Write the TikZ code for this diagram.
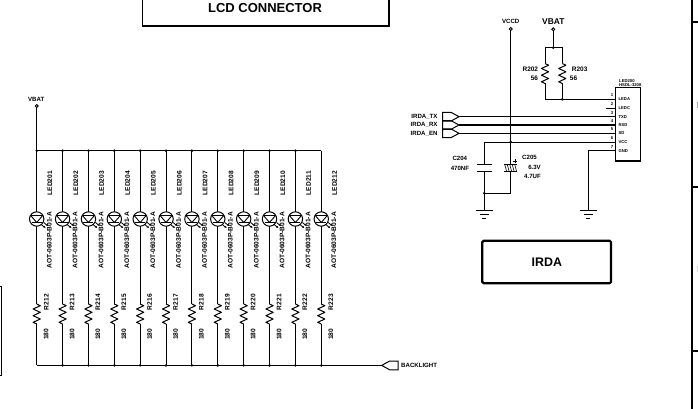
\documentclass[tikz,border=0pt]{standalone}
\usepackage{fontspec}
\setmainfont{Liberation Sans}
\usetikzlibrary{positioning, calc}

\tikzset{
    lbl/.style={inner sep=0, font=\bfseries\fontsize{6.1}{7}\selectfont},
    side lbl/.style={inner sep=0, rotate=90, font=\bfseries\fontsize{6.6}{7}\selectfont},
    tiny lbl/.style={inner sep=0, font=\bfseries\fontsize{4.2}{5}\selectfont},
    big lbl/.style={inner sep=0, font=\bfseries\fontsize{12.4}{14}\selectfont},
    wire/.style={line width=1pt},
    dot/.style={circle, fill=black, inner sep=0, minimum size=2.8pt},
    term/.style={circle, draw, line width=0.9pt, fill=white, inner sep=0, minimum size=3pt},
    pics/resv/.style={code={
        \draw[wire, line join=round] (0,0) -- (3.6,1.7) -- (-3.6,5) -- (3.6,8.3) -- (-3.6,11.7) -- (3.6,15) -- (-3.6,18.3) -- (0,20);
    }},
    pics/gnd/.style={code={
        \draw[wire] (-8.5,0) -- (8.5,0);
        \draw[line width=0.7pt] (-4.5,4.5) -- (4.5,4.5);
        \draw[line width=0.6pt] (-2,8) -- (2,8);
    }},
    pics/led/.style={code={
        \draw[line width=1pt] (0,7) circle (7.2);
        \draw[line width=0.9pt, line join=round] (-6,3.5) -- (6,3.5) -- (0,10.5) -- cycle;
        \draw[line width=0.9pt] (-5,10.5) -- (5,10.5);
        \draw[line width=0.8pt] (4.5,12.5) -- (7.5,15);
        \draw[line width=0.8pt] (7,10.5) -- (10,13);
        \fill (8.8,16) -- (6.6,15.4) -- (8,13.8) -- cycle;
        \fill (11.3,14) -- (9.1,13.4) -- (10.5,11.8) -- cycle;
    }},
    pics/port/.style={code={
        \draw[wire, line join=miter] (0,0) -- (8,-4.4) -- (16.5,-4.4) -- (16.5,4.4) -- (8,4.4) -- cycle;
    }}
}

\begin{document}
\begin{tikzpicture}[x=1pt, y=-1pt]
    \useasboundingbox (0,0) rectangle (698,409);

    % boxes
    \draw[line width=1.1pt] (142.3,-5) rectangle (389,26);
    \node[big lbl, font=\bfseries\fontsize{13}{14}\selectfont] (lcdconn) at (265,8) {LCD CONNECTOR};
    \draw[line width=0.9pt] (-3,286) -- (1.7,286) -- (1.7,375.7) -- (-3,375.7);
    \draw[line width=2.2pt, rounded corners=1.5pt] (482.3,240.7) rectangle (611,283.3);
    \node[big lbl] (irda) at (546.8,262) {IRDA};

    % frame on the right
    \draw[line width=2pt] (692,0) -- (692,409);
    \draw[line width=1.3pt] (692,22) -- (698,22) (692,187) -- (698,187) (692,351) -- (698,351);
    \draw[gray!70, line width=0.8pt] (697.6,102) -- (697.6,108);
    \draw[gray!30, line width=0.8pt] (697.6,266) -- (697.6,272);

    % LED strip
    \foreach \i in {0,...,11} {
        \pgfmathsetmacro{\colx}{36.7+25.87*\i}
        \pgfmathtruncatemacro{\ledn}{201+\i}
        \pgfmathtruncatemacro{\resn}{212+\i}
        \coordinate (top\i) at (\colx,150.7);
        \coordinate (ledin\i) at (\colx,212);
        \coordinate (ledout\i) at (\colx,226.2);
        \coordinate (resin\i) at (\colx,304);
        \coordinate (resout\i) at (\colx,324);
        \coordinate (bot\i) at (\colx,365.4);
        \draw[wire] (top\i) -- (ledin\i);
        \draw[wire] (ledout\i) -- (resin\i);
        \draw[wire] (resout\i) -- (bot\i);
        \pic at (ledin\i) {led};
        \pic at (resin\i) {resv};
        \node[side lbl] (ledname\i) at ($(top\i)+(13.2,32.5)$) {LED\ledn};
        \node[side lbl] (ledtype\i) at ($(top\i)+(12.6,89.5)$) {AOT-0603P-B01-A};
        \node[side lbl] (resname\i) at ($(top\i)+(9.5,151.5)$) {R\resn};
        \node[side lbl] (resval\i) at ($(top\i)+(9.5,183.5)$) {180};
    }
    \coordinate (vbatl) at (36.7,106);
    \coordinate (backl) at (381.7,365.4);
    \draw[wire] (vbatl) -- (top0);
    \draw[wire] (top0) -- (top11);
    \draw[wire] (bot0) -- (backl);
    \foreach \i in {0,...,10} {
        \node[dot] (topdot\i) at (top\i) {};
    }
    \foreach \i in {1,...,11} {
        \node[dot] (botdot\i) at (bot\i) {};
    }
    \node[term] (vbatlt) at (vbatl) {};
    \node[lbl] (vbatllbl) at (36.2,99) {VBAT};
    \pic at (backl) {port};
    \node[lbl, anchor=west] (backlbl) at (401,365.7) {BACKLIGHT};

    % IRDA part
    \draw[line width=1.1pt] (615.8,87.5) rectangle (640.3,161);
    \node[tiny lbl, anchor=west] (ledhead) at (619,80.7) {LED200};
    \node[tiny lbl, anchor=west] (hsdl) at (619,85.2) {HSDL-3208};
    \foreach \n/\pinname/\pinj in {1/LEDA/99.3, 2/LEDC/108.3, 3/TXD/116.7, 4/RXD/125, 5/SD/133.3, 6/VCC/142, 7/GND/150.8} {
        \coordinate (pin\n) at (615.8,\pinj);
        \node[tiny lbl, anchor=west] (pinname\n) at ($(pin\n)+(2.6,0.2)$) {\pinname};
        \node[tiny lbl, anchor=east] (pinnum\n) at ($(pin\n)+(-2.4,-4)$) {\n};
    }
    \coordinate (stub) at (606,108.3);
    \draw[wire] (stub) -- (pin2);

    \coordinate (vbatr) at (553.3,29.3);
    \coordinate (rbus) at (553.3,47.7);
    \coordinate (rla) at (545,47.7);
    \coordinate (rlb) at (545,63.5);
    \coordinate (rlc) at (545,83.5);
    \coordinate (rld) at (545,99.3);
    \coordinate (rra) at (562.3,47.7);
    \coordinate (rrb) at (562.3,63.5);
    \coordinate (rrc) at (562.3,83.5);
    \coordinate (rrd) at (562.3,99.3);
    \draw[wire] (vbatr) -- (rbus);
    \draw[wire] (rlb) -- (rla) -- (rra) -- (rrb);
    \draw[wire] (rlc) -- (rld) -- (pin1);
    \draw[wire] (rrc) -- (rrd);
    \pic at (rlb) {resv};
    \pic at (rrb) {resv};
    \node[dot] (rbusdot) at (rbus) {};
    \node[dot] (rrddot) at (rrd) {};
    \node[term] (vbatrt) at (vbatr) {};
    \node[lbl, font=\bfseries\fontsize{8.4}{9}\selectfont] (vbatrlbl) at (553.3,21.7) {VBAT};
    \node[lbl, font=\bfseries\fontsize{6.5}{7}\selectfont, anchor=east] (r202) at (538.3,69) {R202};
    \node[lbl, font=\bfseries\fontsize{6.5}{7}\selectfont, anchor=east] (r202v) at (538.3,78) {56};
    \node[lbl, font=\bfseries\fontsize{6.5}{7}\selectfont, anchor=west] (r203) at (571.7,69) {R203};
    \node[lbl, font=\bfseries\fontsize{6.5}{7}\selectfont, anchor=west] (r203v) at (569.7,78) {56};

    % irda signals
    \foreach \n/\sig/\sigy/\pint in {tx/IRDA\_TX/116.7/pin3, rx/IRDA\_RX/125/pin4, en/IRDA\_EN/133.3/pin5} {
        \coordinate (tip\n) at (459,\sigy);
        \pic[xscale=-1] at (tip\n) {port};
        \draw[wire] (tip\n) -- (\pint);
        \node[lbl, anchor=east] (name\n) at (437.7,\sigy) {\sig};
    }

    % VCCD and capacitors
    \coordinate (vccd) at (510.7,29);
    \coordinate (vccj) at (510.7,142);
    \coordinate (caphi) at (510.7,164.3);
    \coordinate (caplo) at (510.7,171.7);
    \coordinate (capr) at (510.7,193.3);
    \coordinate (ctop) at (484.3,142);
    \coordinate (chi) at (484.3,164.3);
    \coordinate (clo) at (484.3,171.7);
    \coordinate (cj) at (484.3,193.3);
    \coordinate (gnda) at (484.3,210);
    \coordinate (gndb) at (588.3,210);
    \coordinate (gndbtop) at (588.3,150.8);
    \draw[wire] (vccd) -- (caphi);
    \draw[wire] (chi) -- (ctop) -- (pin6);
    \draw[wire] (caplo) -- (capr) -- (cj);
    \draw[wire] (clo) -- (gnda);
    \draw[wire] (gndb) -- (gndbtop) -- (pin7);
    \draw[wire] ($(chi)+(-7.5,0)$) -- ($(chi)+(7.5,0)$);
    \draw[wire] ($(clo)+(-7.5,0)$) -- ($(clo)+(7.5,0)$);
    \draw[wire] ($(caphi)+(-6.7,0)$) -- ($(caphi)+(6.7,0)$);
    \draw[wire] ($(caplo)+(-6.7,0)$) -- ($(caplo)+(6.7,0)$);
    \foreach \hx in {-6,-3.5,-1,1.5,4} {
        \draw[line width=0.6pt] ($(caphi)+(\hx,0)$) -- ($(caplo)+(\hx+2,0)$);
    }
    \draw[line width=0.8pt] (512.8,161) -- (517.2,161) (515,158.8) -- (515,163.2);
    \pic at (gnda) {gnd};
    \pic at (gndb) {gnd};
    \node[dot] (vccjdot) at (vccj) {};
    \node[dot] (cjdot) at (cj) {};
    \node[term] (vccdt) at (vccd) {};
    \node[lbl] (vccdlbl) at (510.7,21) {VCCD};
    \node[lbl, anchor=east] (c204) at (467.3,158) {C204};
    \node[lbl, anchor=east] (c204v) at (469.3,168) {470NF};
    \node[lbl, anchor=west] (c205) at (522,157.7) {C205};
    \node[lbl, anchor=east] (c205a) at (541,167.7) {6.3V};
    \node[lbl, anchor=east] (c205b) at (541,176.4) {4.7UF};
\end{tikzpicture}
\end{document}
